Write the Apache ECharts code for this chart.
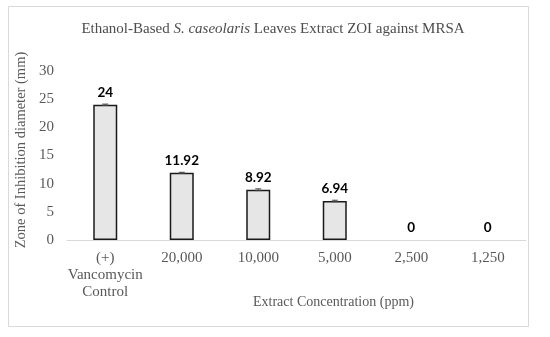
<!DOCTYPE html>
<html><head><meta charset="utf-8">
<script src="https://cdn.jsdelivr.net/npm/echarts@6/dist/echarts.min.js"></script>
<style>html,body{margin:0;padding:0;background:#fff}#c{width:550px;height:337px}</style>
</head><body><div id="c"></div>
<script>
var categories = ['(+)\nVancomycin\nControl', '20,000', '10,000', '5,000', '2,500', '1,250'];
var values = [24, 11.92, 8.92, 6.94, 0, 0];
var errors = [0.12, 0.1, 0.15, 0.12, 0, 0];
var yTicks = [0, 5, 10, 15, 20, 25, 30];

var serif = '"Liberation Serif", "DejaVu Serif", serif';
var chart = echarts.init(document.getElementById('c'));
chart.setOption({
  animation: false,
  backgroundColor: '#fff',
  title: {
    left: 268, top: 17, textAlign: 'center',
    text: '{a|Ethanol-Based }{i|S. caseolaris}{a| Leaves Extract ZOI against MRSA}',
    textStyle: {
      fontWeight: 'normal',
      rich: {
        a: {fontFamily: serif, fontSize: 15, color: '#4d4d4d', fontWeight: 'normal'},
        i: {fontFamily: serif, fontSize: 15, color: '#4d4d4d', fontStyle: 'italic', fontWeight: 'normal'}
      }
    }
  },
  graphic: [
    {type: 'rect', shape: {x: 8.5, y: 6.5, width: 520, height: 320}, style: {fill: 'none', stroke: '#d9d9d9', lineWidth: 1}, z: -10},
    {type: 'text', left: 253, top: 295, style: {text: 'Extract Concentration (ppm)', font: '14px ' + serif, fill: '#595959'}},
    {type: 'text', x: 21, y: 150, rotation: Math.PI / 2,
      style: {text: 'Zone of Inhibition diameter (mm)', font: '14.5px ' + serif, fill: '#595959', align: 'center', verticalAlign: 'middle'}}
  ],
  grid: {left: 67, right: 24, top: 71, bottom: 97},
  xAxis: {
    type: 'category', data: categories,
    axisLine: {lineStyle: {color: '#d9d9d9', width: 1}},
    axisTick: {show: false},
    axisLabel: {color: '#595959', fontFamily: serif, fontSize: 15, lineHeight: 17, margin: 10, interval: 0}
  },
  yAxis: {
    type: 'value', min: 0, max: 30, interval: 5,
    axisLine: {show: false}, axisTick: {show: false},
    splitLine: {show: false},
    axisLabel: {color: '#595959', fontFamily: serif, fontSize: 15, margin: 13,
      formatter: function (v) { return yTicks.indexOf(v) >= 0 ? String(v) : ''; }}
  },
  series: [
    {
      type: 'bar', barWidth: 24,
      data: values.map(function (v) { return v === 0 ? {value: v, itemStyle: {borderWidth: 0}} : v; }),
      itemStyle: {color: '#e7e6e6', borderColor: '#1a1a1a', borderWidth: 1.5},
      label: {show: true, position: 'top', distance: 5, color: '#000', fontFamily: 'Lato, "Open Sans", sans-serif', fontWeight: 'bold', fontSize: 13.5,
        formatter: function (p) { return String(p.value); }}
    },
    {
      type: 'custom',
      data: values.map(function (v, i) { return [i, v, errors[i]]; }),
      renderItem: function (params, api) {
        var i = api.value(0), v = api.value(1), e = api.value(2);
        if (!e) return null;
        var hi = api.coord([i, v + e]), lo = api.coord([i, v - e]);
        var w = 3;
        var st = {stroke: '#404040', lineWidth: 1};
        return {type: 'group', children: [
          {type: 'line', shape: {x1: hi[0], y1: hi[1], x2: lo[0], y2: lo[1]}, style: st},
          {type: 'line', shape: {x1: hi[0] - w, y1: hi[1], x2: hi[0] + w, y2: hi[1]}, style: st},
          {type: 'line', shape: {x1: lo[0] - w, y1: lo[1], x2: lo[0] + w, y2: lo[1]}, style: st}
        ]};
      },
      z: 10
    }
  ]
});
</script></body></html>
